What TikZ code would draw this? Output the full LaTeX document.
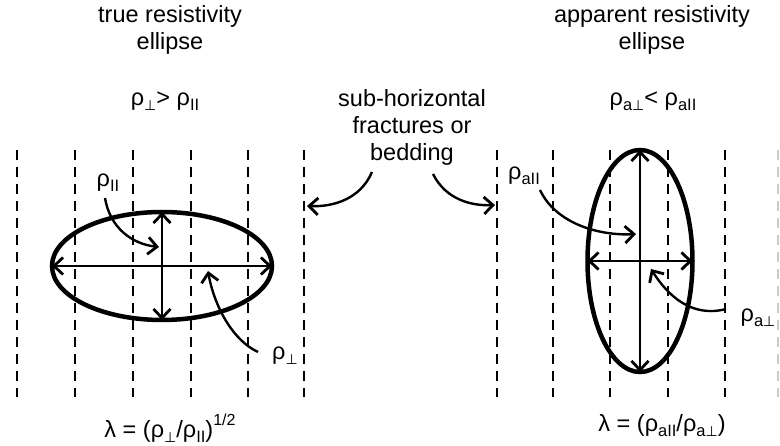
\documentclass[tikz,border=0pt]{standalone}
\usepackage{fontspec}
\setmainfont{Liberation Sans}
\newfontfamily\dvs{DejaVu Sans}
\usetikzlibrary{arrows.meta,shapes.geometric}
\newcommand\sbx[1]{\raisebox{-0.4ex}{\fontsize{16.5}{16.5}\selectfont #1}}
\newcommand\spx[1]{\raisebox{1.0ex}{\fontsize{16}{16}\selectfont #1}}
\newcommand\pp{{\dvs\fontsize{14}{14}\selectfont ⊥}}
\begin{document}
\begin{tikzpicture}[x=1pt,y=-1pt,
  font=\fontsize{23.5}{27}\selectfont,
  txt/.style={align=center,inner sep=0pt},
  frac/.style={line width=2.5pt,dash pattern=on 10pt off 7pt},
  fracfaint/.style={frac,draw=black!20},
  ell/.style={draw,ellipse,line width=4.5pt,inner sep=0pt,outer sep=0pt},
  barb/.tip={Straight Barb[length=9pt,width=17pt,line width=2.8pt]},
  axis/.style={line width=2.2pt,barb-barb},
  pointer/.style={line width=2.4pt,-barb}]
\useasboundingbox (0,0) rectangle (780,446);
% fracture lines
\foreach \x in {17,75,133,191,248,304,497,553,610,668,725}
  \draw[frac] (\x,150) -- (\x,397);
\draw[fracfaint] (778,150) -- (778,397);
% titles
\node[txt] (t1) at (170,30) {true resistivity\\ellipse};
\node[txt] (t2) at (652,30) {apparent resistivity\\ellipse};
\node[txt] (r1) at (165,101) {ρ\sbx{\pp}> ρ\sbx{II}};
\node[txt] (r2) at (653,101) {ρ\sbx{a\pp}< ρ\sbx{aII}};
\node[txt] (sub) at (412,127) {sub-horizontal\\fractures or\\bedding};
% left ellipse
\node[ell,minimum width=220pt,minimum height=108pt] (e1) at (162,266) {};
\draw[axis] (e1.west) -- (e1.east);
\draw[axis] (e1.north) -- (e1.south);
% right ellipse
\node[ell,minimum width=105pt,minimum height=222pt] (e2) at (640,261) {};
\draw[axis] (e2.west) -- (e2.east);
\draw[axis] (e2.north) -- (e2.south);
% labels
\node[txt] (l1) at (108,183) {ρ\sbx{II}};
\node[txt] (l2) at (285,356) {ρ\sbx{\pp}};
\node[txt] (l3) at (524,176) {ρ\sbx{aII}};
\node[txt] (l4) at (758,318) {ρ\sbx{a\pp}};
\coordinate (p1s) at (105,198);
\coordinate (p1e) at (159,247);
\coordinate (p2s) at (258,352);
\coordinate (p2e) at (208,271);
\coordinate (p3s) at (540,190);
\coordinate (p3e) at (636,234);
\coordinate (p4s) at (726,309);
\coordinate (p4e) at (651,269);
\coordinate (b1s) at (372,172);
\coordinate (b1e) at (307,206);
\coordinate (b2s) at (433,174);
\coordinate (b2e) at (495,205);
\draw[pointer] (p1s) .. controls (110,228) and (132,244) .. (p1e);
\draw[pointer] (p2s) .. controls (232,340) and (214,305) .. (p2e);
\draw[pointer] (p3s) .. controls (556,224) and (600,236) .. (p3e);
\draw[pointer] (p4s) .. controls (692,318) and (668,296) .. (p4e);
\draw[pointer] (b1s) .. controls (360,200) and (332,207) .. (b1e);
\draw[pointer] (b2s) .. controls (446,200) and (472,206) .. (b2e);
% formulas
\node[txt] (f1) at (170,428) {λ = (ρ\sbx{\pp}/ρ\sbx{II})\spx{1/2}};
\node[txt] (f2) at (662,426) {λ = (ρ\sbx{aII}/ρ\sbx{a\pp})};
\end{tikzpicture}
\end{document}
